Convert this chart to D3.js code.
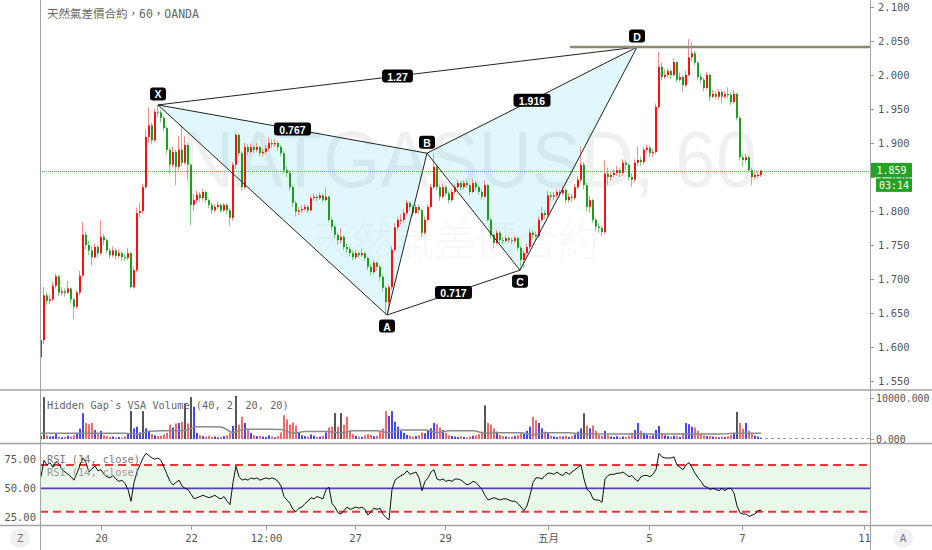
<!DOCTYPE html>
<html><head><meta charset="utf-8">
<script src="https://cdn.jsdelivr.net/npm/d3@7"></script>
<style>body{margin:0;background:#fff}svg{display:block}</style>
</head><body>
<svg id="c" width="932" height="550"></svg>
<script>
// ---------------- DATA ----------------
const title = "天然氣差價合約，60，OANDA";
const symbolWatermark = "NATGASUSD, 60";
const nameWatermark = "天然氣差價合約";
const firstOpen = 1.585;
const closes = [
1.610,1.676,1.668,1.670,1.690,1.704,1.680,1.682,1.680,1.686,
1.670,1.659,1.680,1.705,1.765,1.750,1.742,1.732,1.747,1.738,
1.762,1.757,1.742,1.735,1.742,1.734,1.738,1.732,1.731,1.738,
1.688,1.713,1.797,1.800,1.835,1.909,1.926,1.904,1.946,1.945,
1.937,1.922,1.890,1.868,1.887,1.865,1.890,1.871,1.897,1.868,
1.809,1.816,1.824,1.819,1.828,1.816,1.809,1.801,1.806,1.809,
1.801,1.809,1.801,1.790,1.868,1.912,1.885,1.835,1.894,1.887,
1.894,1.890,1.894,1.885,1.887,1.892,1.900,1.898,1.900,1.894,
1.885,1.860,1.856,1.835,1.812,1.799,1.801,1.803,1.806,1.801,
1.819,1.821,1.819,1.823,1.816,1.821,1.787,1.777,1.765,1.757,
1.762,1.747,1.744,1.738,1.732,1.738,1.735,1.738,1.731,1.718,
1.710,1.724,1.718,1.703,1.687,1.666,1.688,1.743,1.776,1.787,
1.787,1.797,1.812,1.806,1.797,1.806,1.801,1.768,1.787,1.806,
1.835,1.865,1.835,1.821,1.835,1.826,1.816,1.828,1.835,1.841,
1.835,1.841,1.838,1.828,1.841,1.835,1.828,1.821,1.838,1.787,
1.765,1.753,1.768,1.757,1.756,1.760,1.757,1.756,1.760,1.746,
1.728,1.738,1.747,1.768,1.765,1.763,1.787,1.797,1.794,1.823,
1.821,1.823,1.828,1.826,1.831,1.816,1.821,1.819,1.835,1.846,
1.868,1.838,1.806,1.816,1.787,1.777,1.775,1.769,1.855,1.850,
1.853,1.856,1.860,1.856,1.871,1.868,1.850,1.846,1.871,1.875,
1.872,1.890,1.893,1.885,1.887,1.953,2.012,1.997,2.000,2.006,
2.000,2.019,1.993,1.997,1.985,2.000,2.026,2.032,2.018,1.997,
1.993,1.981,2.000,1.968,1.972,1.968,1.975,1.968,1.972,1.971,
1.960,1.972,1.937,1.879,1.875,1.879,1.860,1.850,1.853,1.853,
1.859];
const highs = [
1.614,1.688,1.680,1.677,1.696,1.708,1.706,1.688,1.686,1.697,
1.688,1.672,1.684,1.712,1.784,1.770,1.756,1.748,1.752,1.750,
1.786,1.766,1.760,1.745,1.748,1.745,1.744,1.741,1.737,1.746,
1.740,1.718,1.805,1.812,1.840,1.920,1.953,1.930,1.950,1.956,
1.948,1.940,1.925,1.893,1.895,1.890,1.910,1.926,1.910,1.900,
1.870,1.825,1.830,1.828,1.832,1.830,1.818,1.812,1.810,1.814,
1.811,1.812,1.811,1.804,1.872,1.915,1.914,1.888,1.900,1.898,
1.899,1.897,1.900,1.896,1.892,1.897,1.908,1.905,1.906,1.903,
1.897,1.888,1.866,1.860,1.838,1.815,1.806,1.808,1.810,1.809,
1.823,1.826,1.824,1.827,1.825,1.835,1.823,1.790,1.780,1.768,
1.775,1.764,1.752,1.748,1.742,1.743,1.741,1.744,1.740,1.733,
1.722,1.728,1.726,1.720,1.706,1.690,1.692,1.748,1.782,1.792,
1.795,1.802,1.816,1.814,1.809,1.810,1.810,1.803,1.792,1.810,
1.840,1.885,1.868,1.838,1.840,1.838,1.829,1.832,1.839,1.846,
1.844,1.845,1.846,1.840,1.847,1.844,1.838,1.832,1.845,1.840,
1.790,1.768,1.772,1.771,1.762,1.764,1.763,1.761,1.764,1.762,
1.749,1.742,1.752,1.774,1.772,1.770,1.792,1.806,1.801,1.830,
1.828,1.828,1.833,1.832,1.836,1.834,1.826,1.825,1.840,1.851,
1.895,1.872,1.842,1.822,1.818,1.790,1.782,1.778,1.875,1.864,
1.860,1.861,1.866,1.864,1.876,1.874,1.870,1.856,1.876,1.895,
1.880,1.894,1.898,1.896,1.892,1.958,2.034,2.018,2.008,2.010,
2.008,2.024,2.020,2.004,2.000,2.006,2.053,2.048,2.036,2.020,
2.002,1.996,2.004,2.002,1.978,1.976,1.979,1.977,1.976,1.982,
1.974,1.978,1.974,1.940,1.884,1.884,1.882,1.864,1.860,1.858,
1.861];
const lows = [
1.578,1.604,1.662,1.663,1.668,1.686,1.675,1.676,1.674,1.678,
1.665,1.641,1.656,1.676,1.702,1.744,1.735,1.720,1.730,1.732,
1.735,1.750,1.738,1.730,1.732,1.729,1.730,1.727,1.726,1.728,
1.686,1.686,1.710,1.790,1.796,1.832,1.900,1.898,1.902,1.938,
1.930,1.918,1.884,1.855,1.864,1.838,1.860,1.866,1.868,1.845,
1.779,1.800,1.812,1.814,1.815,1.812,1.804,1.796,1.798,1.803,
1.797,1.798,1.795,1.779,1.786,1.862,1.880,1.830,1.832,1.882,
1.884,1.885,1.886,1.880,1.880,1.884,1.889,1.893,1.894,1.889,
1.880,1.855,1.850,1.830,1.806,1.792,1.794,1.797,1.800,1.797,
1.799,1.815,1.814,1.816,1.812,1.814,1.784,1.772,1.760,1.750,
1.752,1.742,1.738,1.733,1.728,1.729,1.731,1.733,1.726,1.713,
1.705,1.707,1.712,1.697,1.682,1.647,1.650,1.684,1.740,1.772,
1.780,1.783,1.794,1.800,1.792,1.795,1.796,1.762,1.765,1.784,
1.804,1.832,1.830,1.815,1.818,1.822,1.811,1.813,1.825,1.832,
1.830,1.832,1.834,1.823,1.826,1.830,1.824,1.816,1.819,1.784,
1.760,1.745,1.750,1.752,1.751,1.753,1.753,1.751,1.753,1.741,
1.713,1.716,1.735,1.744,1.758,1.756,1.760,1.784,1.788,1.791,
1.815,1.816,1.819,1.820,1.822,1.811,1.812,1.814,1.816,1.832,
1.842,1.832,1.800,1.798,1.782,1.770,1.768,1.763,1.766,1.838,
1.845,1.849,1.852,1.850,1.852,1.860,1.845,1.835,1.842,1.866,
1.866,1.868,1.885,1.880,1.880,1.884,1.950,1.992,1.994,1.996,
1.994,1.998,1.988,1.990,1.975,1.982,1.998,2.020,2.014,1.992,
1.988,1.976,1.978,1.962,1.966,1.964,1.964,1.958,1.965,1.966,
1.956,1.958,1.933,1.874,1.866,1.872,1.856,1.838,1.846,1.848,
1.850];
const volumes = [
800,10200,900,600,700,1200,600,400,500,800,
600,900,1500,2500,6300,3900,3600,3900,2200,1200,
2000,900,700,500,600,400,500,300,600,1200,
6800,2600,3000,1600,6800,2600,1800,1200,900,700,
800,1100,1500,3500,2800,3800,3900,4200,8700,3800,
10200,7900,1500,900,700,600,800,500,600,400,
500,700,900,1500,3200,10500,3500,5400,3900,2200,
1500,900,700,800,600,500,900,600,400,700,
1600,5800,4800,3500,4000,3300,1500,900,700,600,
1100,800,500,600,800,1600,2800,3000,6300,3000,
6300,3500,5400,2000,1200,800,600,500,900,1200,
1000,700,800,1800,2600,6800,5600,6800,4200,3000,
2000,1500,1000,800,600,700,900,1600,1400,2000,
2600,3900,3600,2800,2200,1500,900,700,600,500,
700,500,400,600,800,900,1200,1800,8200,3900,
3500,2600,1800,1000,700,600,500,600,700,900,
1400,1200,2000,3000,5400,4600,3900,2600,1800,1500,
800,600,500,700,600,800,500,700,1100,1800,
2600,6300,3300,2600,3300,2000,1000,800,2000,900,
600,500,700,400,600,500,800,1500,2200,3900,
2000,1500,1100,800,900,2200,3200,1500,900,700,
600,800,700,500,1400,3900,3600,3000,2800,2000,
1200,900,700,800,600,500,400,600,500,700,
1000,1500,6600,3900,2500,3900,2000,1500,800,600,
300];
const climaxBars = [1,30,34,48,50,65,98,100,148,181,232];
const volMAStep = 4;
const volMA = [
1400,1400,1400,1400,1400,1400,1400,1400,1100,1900,
2000,2000,2050,3000,3000,2950,1600,2350,2350,2350,
2300,1400,1800,1800,1800,1500,2000,2000,2000,1500,
2200,2200,2200,1600,2000,2000,2000,1400,1550,1550,
1550,1000,1550,1550,1500,1250,1250,1250,1250,1200,
1200,1200,1200,1200,1200,1200,1200,1250,1400,1400,
1400];
const rsi = [
60,74,70,72,68,73,71,66,64,62,
60,57,63,70,76,72,64,67,69,65,
66,62,60,59,61,58,56,57,54,49,
39,55,64,70,76,80,78,76,75,76,
74,68,62,56,53,55,57,52,50,49,
45,41,42,43,44,43,42,43,44,42,
41,43,39,36,55,69,60,57,58,57,
59,58,59,57,58,59,58,59,58,56,
52,43,40,37,32,30,33,34,37,39,
42,41,43,42,41,49,51,37,34,29,
28,31,34,32,33,34,33,34,32,27,
30,33,32,33,28,25,23,49,57,59,
61,62,65,62,63,64,59,48,56,59,
64,66,58,57,58,56,57,56,58,58,
57,55,53,54,56,55,52,49,44,40,
41,42,41,40,41,41,40,39,39,37,
34,31,35,44,55,59,59,58,61,63,
63,62,64,62,61,64,62,64,66,68,
70,58,49,47,41,40,40,38,58,61,
62,62,63,63,64,62,60,61,58,56,
60,61,61,60,62,66,80,77,76,76,
76,77,70,68,66,70,72,68,63,59,
56,52,51,49,50,49,48,50,48,50,
50,46,35,29,28,28,26,27,28,31,
31];
const priceTicks = [2.100,2.050,2.000,1.950,1.900,1.850,1.800,1.750,1.700,1.650,1.600,1.550];
const volTicks = [0, 10000];
const rsiTicks = [25, 50, 75];
const rsiLevels = [70, 30];
const rsiMid = 50;
const timeTickLabels = ["20","22","12:00","27","29","五月","5","7","11"];
const timeTickBars = [20, 50, 75, 104.67, 134.67, 169, 202.67, 233.67, 274.33];
const patternNames = ["X","A","B","C","D"];
const patternBars = [39, 115.33, 128.67, 159.67, 198.67];
const patternPrices = [1.956, 1.647, 1.885, 1.713, 2.041];
const ratioFrom = ["X","X","B","A"];
const ratioTo = ["B","D","D","C"];
const ratioLabels = ["0.767","1.27","1.916","0.717"];
const rayBar = 176.33, rayPrice = 2.041;
const lastPrice = 1.859, countdown = "03:14";
const volTitle = "Hidden Gap`s VSA Volume (40, 2, 20, 20)";
const rsiTitle = "RSI (14, close)";

// ---------------- LAYOUT ----------------
const L = 40, R = 870;
const MONO = "'DejaVu Sans Mono','Noto Sans CJK TC',monospace";
const svg = d3.select("#c");
const x = d3.scaleLinear().domain([-1/3, 276 + 1/3]).range([L, R]);
const y = d3.scaleLinear().domain([1.53676, 2.11029]).range([390, 0]);
const yv = d3.scaleLinear().domain([0, 10000]).range([439, 398]);
const yr = d3.scaleLinear().domain([30, 70]).range([511.7, 465]);

svg.append("rect").attr("width", 932).attr("height", 550).attr("fill", "#fff");
const defs = svg.append("defs");
function clip(id, x0, y0, w, h) {
  defs.append("clipPath").attr("id", id).append("rect").attr("x", x0).attr("y", y0).attr("width", w).attr("height", h);
}
clip("cm", L, 0, R - L, 390);
clip("cv", L, 391, R - L, 52);
clip("cr", L, 444, R - L, 81);

// ---------------- MAIN PANE ----------------
const gm = svg.append("g").attr("clip-path", "url(#cm)");
gm.append("text").attr("x", 181).attr("y", 187)
  .attr("font-family", "'Liberation Sans',Arial,sans-serif").attr("font-size", 80)
  .attr("textLength", 576).attr("lengthAdjust", "spacingAndGlyphs")
  .attr("fill", "#000").attr("fill-opacity", 0.06).text(symbolWatermark);
gm.append("text").attr("x", 311).attr("y", 256)
  .attr("font-family", "'Noto Sans CJK TC',sans-serif").attr("font-size", 42).attr("font-weight", 300)
  .attr("textLength", 288).attr("lengthAdjust", "spacingAndGlyphs")
  .attr("fill", "#000").attr("fill-opacity", 0.05).text(nameWatermark);

const P = {};
patternNames.forEach((n, i) => P[n] = [x(patternBars[i]), y(patternPrices[i])]);
const tri = pts => "M" + pts.map(n => P[n].join(",")).join("L") + "Z";
gm.append("path").attr("d", tri(["X","A","B"])).attr("fill", "rgb(0,200,230)").attr("fill-opacity", 0.12);
gm.append("path").attr("d", tri(["B","C","D"])).attr("fill", "rgb(0,200,230)").attr("fill-opacity", 0.12);

// current price dotted line
gm.append("line").attr("x1", L).attr("x2", R).attr("y1", Math.round(y(lastPrice)) + 0.5).attr("y2", Math.round(y(lastPrice)) + 0.5)
  .attr("stroke", "#4cb84c").attr("stroke-dasharray", "1,1").attr("stroke-width", 1);

// candles
const bars = closes.map((c, i) => {
  const o = i ? closes[i - 1] : firstOpen;
  return { i, o, c, h: highs[i], l: lows[i], up: c >= o };
});
gm.selectAll(".wick").data(bars).join("rect")
  .attr("x", d => Math.round(x(d.i)) - 1).attr("width", 1)
  .attr("y", d => y(Math.max(d.h, d.o, d.c))).attr("height", d => Math.max(1, y(Math.min(d.l, d.o, d.c)) - y(Math.max(d.h, d.o, d.c))))
  .attr("fill", d => d.up ? "#f58d8d" : "#86cc86");
gm.selectAll(".body").data(bars).join("rect")
  .attr("x", d => Math.round(x(d.i)) - 1).attr("width", 2)
  .attr("y", d => y(Math.max(d.o, d.c))).attr("height", d => Math.max(1, Math.abs(y(d.o) - y(d.c))))
  .attr("fill", d => d.up ? "#ff1010" : "#1d9e1d");

// pattern lines
const seg = (a, b) => gm.append("line").attr("x1", P[a][0]).attr("y1", P[a][1]).attr("x2", P[b][0]).attr("y2", P[b][1])
  .attr("stroke", "#222").attr("stroke-width", 1);
[["X","A"],["A","B"],["X","B"],["B","C"],["C","D"],["B","D"],["X","D"],["A","C"]].forEach(s => seg(s[0], s[1]));

// horizontal ray
gm.append("line").attr("x1", x(rayBar)).attr("x2", R).attr("y1", y(rayPrice)).attr("y2", y(rayPrice))
  .attr("stroke", "#8c8b72").attr("stroke-width", 2.5);

// tags
function tag(cx, cy, text) {
  const w = text.length === 1 ? 16 : text.length * 6.2 + 6;
  gm.append("rect").attr("x", cx - w / 2).attr("y", cy - 6.5).attr("width", w).attr("height", 13).attr("rx", 3).attr("fill", "#000");
  gm.append("text").attr("x", cx).attr("y", cy + 0.5).attr("text-anchor", "middle").attr("dominant-baseline", "central")
    .attr("font-family", "'Liberation Sans',Arial,sans-serif").attr("font-weight", "bold").attr("font-size", 10.5)
    .attr("fill", "#fff").text(text);
}
const tagSide = { X: -1, A: 1, B: -1, C: 1, D: -1 };
patternNames.forEach(n => tag(P[n][0], P[n][1] + tagSide[n] * 11, n));
ratioLabels.forEach((t, i) => {
  const a = P[ratioFrom[i]], b = P[ratioTo[i]];
  tag((a[0] + b[0]) / 2, (a[1] + b[1]) / 2, t);
});

svg.append("text").attr("x", 47).attr("y", 18).attr("font-family", MONO).attr("font-size", 11.5)
  .attr("fill", "#666").text(title);

// ---------------- VOLUME PANE ----------------
const gv = svg.append("g").attr("clip-path", "url(#cv)");
gv.selectAll(".v").data(volumes).join("rect")
  .attr("x", (d, i) => Math.round(x(i)) - 1).attr("width", 2)
  .attr("y", d => yv(d)).attr("height", d => yv(0) - yv(d))
  .attr("fill", (d, i) => climaxBars.includes(i) ? "#555" : (bars[i].up ? "#4646f5" : "#f06a6a"));
gv.append("path").datum(volMA)
  .attr("d", d3.line().x((d, k) => x(k * volMAStep)).y(d => yv(d)).curve(d3.curveMonotoneX))
  .attr("fill", "none").attr("stroke", "#8a8a8a").attr("stroke-width", 1.5);
gv.append("line").attr("x1", x(closes.length - 1) + 4).attr("x2", R).attr("y1", yv(0) - 0.5).attr("y2", yv(0) - 0.5)
  .attr("stroke", "#999").attr("stroke-dasharray", "3,3");
svg.append("text").attr("x", 47).attr("y", 409).attr("font-family", MONO).attr("font-size", 10.3)
  .attr("fill", "#666").text(volTitle);

// ---------------- RSI PANE ----------------
const gr = svg.append("g").attr("clip-path", "url(#cr)");
gr.append("rect").attr("x", L).attr("width", R - L).attr("y", yr(rsiLevels[0])).attr("height", yr(rsiLevels[1]) - yr(rsiLevels[0]))
  .attr("fill", "#e9f8e9");
rsiLevels.forEach(v => gr.append("line").attr("x1", L).attr("x2", R).attr("y1", yr(v)).attr("y2", yr(v))
  .attr("stroke", "#f03434").attr("stroke-width", 2).attr("stroke-dasharray", "8,5"));
gr.append("line").attr("x1", L).attr("x2", R).attr("y1", yr(rsiMid)).attr("y2", yr(rsiMid))
  .attr("stroke", "#5a3dcc").attr("stroke-width", 1.6);
svg.append("text").attr("x", 47).attr("y", 463).attr("font-family", MONO).attr("font-size", 10.3).attr("fill", "#777").text(rsiTitle);
svg.append("text").attr("x", 47).attr("y", 476).attr("font-family", MONO).attr("font-size", 10.3).attr("fill", "#999").text(rsiTitle);
gr.append("path").datum(rsi).attr("d", d3.line().x((d, i) => x(i)).y(d => yr(d)))
  .attr("fill", "none").attr("stroke", "#111").attr("stroke-width", 1);

// ---------------- FRAME & AXES ----------------
[390, 443.5, 525.5].forEach(v => svg.append("line").attr("x1", 0).attr("x2", 932).attr("y1", v).attr("y2", v)
  .attr("stroke", "#a3a3a3").attr("stroke-width", 1.5));
[L + 0.5, R + 0.5].forEach(v => svg.append("line").attr("x1", v).attr("x2", v).attr("y1", 0).attr("y2", 550)
  .attr("stroke", "#a3a3a3").attr("stroke-width", 1));

function styleAxis(g, fs) {
  g.select(".domain").remove();
  g.selectAll(".tick line").attr("stroke", "#999");
  g.selectAll("text").attr("font-family", MONO).attr("font-size", fs || 10.5).attr("fill", "#555");
}
svg.append("g").attr("transform", `translate(${R},0)`)
  .call(d3.axisRight(y).tickValues(priceTicks).tickFormat(d3.format(".3f")).tickSize(4).tickPadding(4)).call(styleAxis);
svg.append("g").attr("transform", `translate(${R},0)`)
  .call(d3.axisRight(yv).tickValues(volTicks).tickFormat(d3.format(".3f")).tickSize(4).tickPadding(2)).call(g => styleAxis(g, 9.9));
svg.append("g").attr("transform", `translate(${L - 3},0)`)
  .call(d3.axisLeft(yr).tickValues(rsiTicks).tickFormat(d3.format(".2f")).tickSize(0).tickPadding(1)).call(styleAxis);
svg.append("g").attr("transform", `translate(0,526)`)
  .call(d3.axisBottom(x).tickValues(timeTickBars).tickFormat((d, i) => timeTickLabels[i]).tickSize(4).tickPadding(5)).call(styleAxis);

// last price badge
const yp = y(lastPrice);
svg.append("rect").attr("x", R + 1).attr("y", yp - 8).attr("width", 41).attr("height", 14.5).attr("fill", "#22a322");
svg.append("text").attr("x", R + 21.5).attr("y", yp - 0.7).attr("text-anchor", "middle").attr("dominant-baseline", "central")
  .attr("font-family", MONO).attr("font-size", 10).attr("fill", "#fff").text(lastPrice.toFixed(3));
svg.append("rect").attr("x", R + 6).attr("y", yp + 7.5).attr("width", 36).attr("height", 13.5).attr("fill", "#22a322");
svg.append("text").attr("x", R + 24).attr("y", yp + 14.5).attr("text-anchor", "middle").attr("dominant-baseline", "central")
  .attr("font-family", MONO).attr("font-size", 10).attr("fill", "#fff").text(countdown);

// corner buttons
[[20, "Z"], [903, "A"]].forEach(([cx, t]) => {
  svg.append("circle").attr("cx", cx).attr("cy", 538).attr("r", 10).attr("fill", "#eef0f2");
  svg.append("text").attr("x", cx).attr("y", 538).attr("text-anchor", "middle").attr("dominant-baseline", "central")
    .attr("font-family", MONO).attr("font-size", 11).attr("fill", "#777").text(t);
});
</script>
</body></html>
